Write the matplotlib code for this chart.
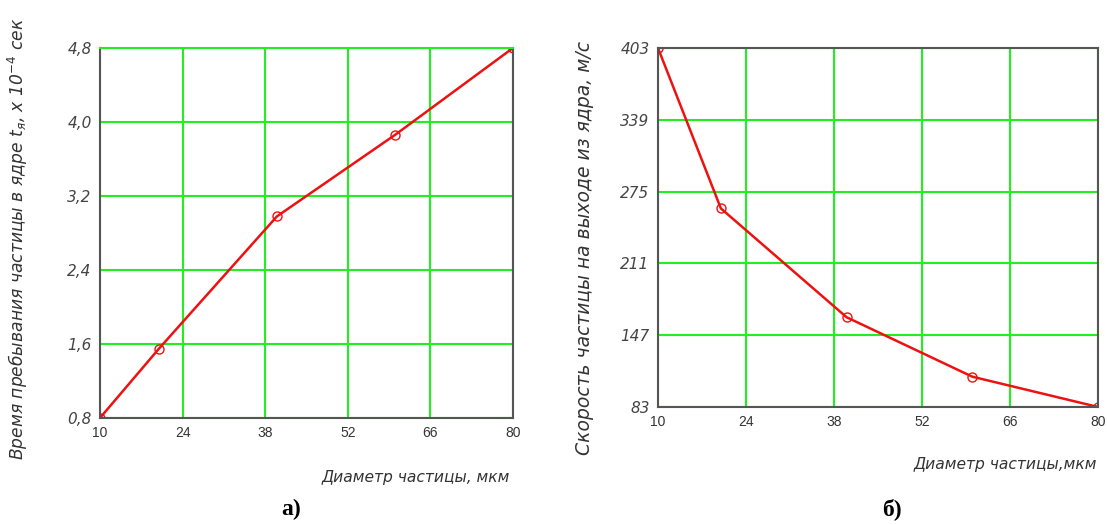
import matplotlib.pyplot as plt

# левый график: время пребывания частицы в ядре
d_a = [10, 20, 40, 60, 80]
t_a = [0.8, 1.55, 2.98, 3.86, 4.8]
yticks_a = [0.8, 1.6, 2.4, 3.2, 4.0, 4.8]
ylabels_a = ['0,8', '1,6', '2,4', '3,2', '4,0', '4,8']

# правый график: скорость частицы на выходе из ядра
d_b = [10, 20, 40, 60, 80]
v_b = [403, 260, 163, 110, 83]
yticks_b = [83, 147, 211, 275, 339, 403]

xticks = [10, 24, 38, 52, 66, 80]

grid_col = '#22ee22'
line_col = '#ee1111'
spine_col = '#555555'

fig = plt.figure(figsize=(11.07, 5.25), dpi=100)
ax1 = fig.add_axes([0.0903, 0.2038, 0.3731, 0.7048])
ax2 = fig.add_axes([0.5944, 0.2248, 0.3975, 0.6838])


def style(ax, yt, yl):
    ax.set_xlim(10, 80)
    ax.set_ylim(yt[0], yt[-1])
    ax.set_xticks(xticks)
    ax.set_xticklabels([str(v) for v in xticks], fontsize=10, color='#333333',
                       family='Liberation Sans')
    ax.set_yticks(yt)
    ax.set_yticklabels(yl, fontsize=11, style='italic', color='#444444')
    ax.tick_params(length=0, pad=6)
    ax.grid(color=grid_col, linewidth=1.5)
    ax.set_axisbelow(True)
    for s in ax.spines.values():
        s.set_color(spine_col)
        s.set_linewidth(1.5)


style(ax1, yticks_a, ylabels_a)
style(ax2, yticks_b, [str(v) for v in yticks_b])
ax1.spines['top'].set_color(grid_col)

ax1.plot(d_a, t_a, color=line_col, lw=1.8, marker='o', ms=6.5, mfc='none',
         mec=line_col, mew=1.0)
ax2.plot(d_b, v_b, color=line_col, lw=1.8, marker='o', ms=6.5, mfc='none',
         mec=line_col, mew=1.0)

fig.text(0.016, 0.545, 'Время пребывания частицы в ядре t$_{я}$, x 10$^{-4}$ сек',
         rotation=90, ha='center', va='center', fontsize=12.3, style='italic',
         color='#333333')
fig.text(0.528, 0.528, 'Скорость частицы на выходе из ядра, м/с',
         rotation=90, ha='center', va='center', fontsize=13.5, style='italic',
         color='#333333')

fig.text(0.461, 0.091, 'Диаметр частицы, мкм', ha='right', va='center',
         fontsize=11.2, style='italic', color='#333333')
fig.text(0.991, 0.116, 'Диаметр частицы,мкм', ha='right', va='center',
         fontsize=11.2, style='italic', color='#333333')

fig.text(0.263, 0.03, 'а)', ha='center', va='center', fontsize=17,
         fontweight='bold', family='Liberation Serif')
fig.text(0.806, 0.03, 'б)', ha='center', va='center', fontsize=17,
         fontweight='bold', family='Liberation Serif')

fig.savefig('out.png', dpi=100)
